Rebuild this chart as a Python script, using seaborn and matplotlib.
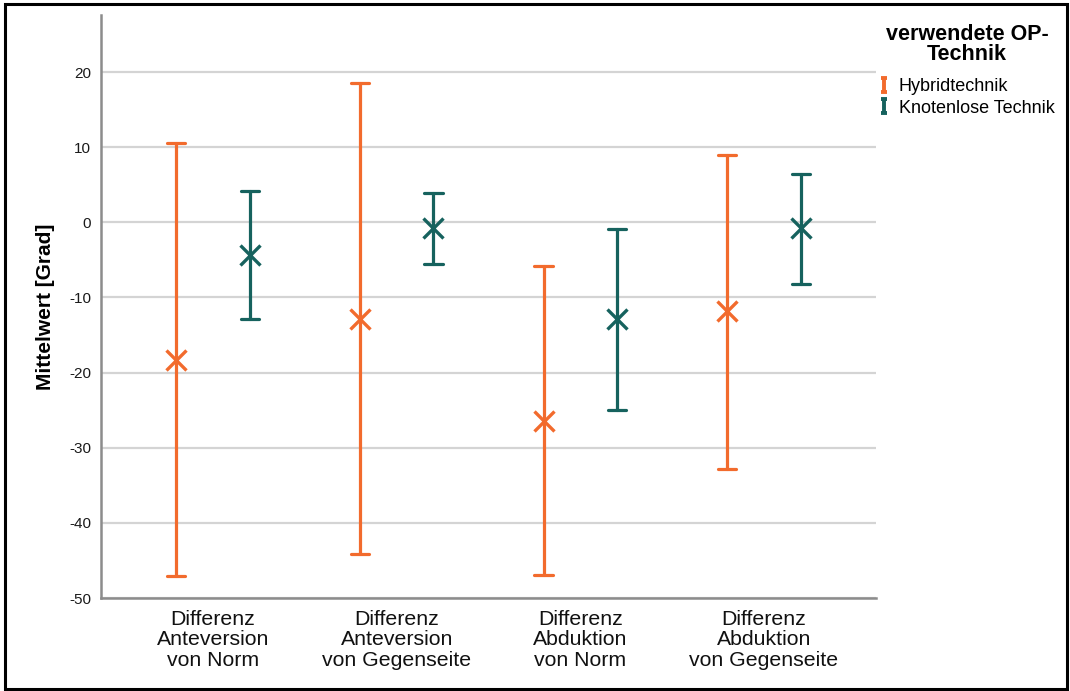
import numpy as np
import pandas as pd
import matplotlib
matplotlib.use("Agg")
import matplotlib.pyplot as plt
import seaborn as sns
from matplotlib.lines import Line2D
from matplotlib.path import Path
from matplotlib.patches import Rectangle

# ---- data ----
categories = ["Differenz\nAnteversion\nvon Norm",
              "Differenz\nAnteversion\nvon Gegenseite",
              "Differenz\nAbduktion\nvon Norm",
              "Differenz\nAbduktion\nvon Gegenseite"]
groups = ["Hybridtechnik", "Knotenlose Technik"]
hyb_mean = [-18.3, -12.8, -26.4, -11.8]
hyb_low = [-47.1, -44.1, -47.0, -32.8]
hyb_high = [10.6, 18.5, -5.8, 8.9]
kno_mean = [-4.4, -0.8, -12.8, -0.7]
kno_low = [-12.9, -5.5, -25.0, -8.2]
kno_high = [4.2, 3.9, -0.9, 6.5]
yticks = [-50, -40, -30, -20, -10, 0, 10, 20]

colors = {"Hybridtechnik": "#F26B2D", "Knotenlose Technik": "#16625E"}

rows = []
for g, lo, me, hi in [(groups[0], hyb_low, hyb_mean, hyb_high),
                      (groups[1], kno_low, kno_mean, kno_high)]:
    for c, a, b, d in zip(categories, lo, me, hi):
        for v in (a, b, d):
            rows.append({"cat": c, "group": g, "val": v})
df = pd.DataFrame(rows)

sns.set_theme(style="white")
plt.rcParams["font.family"] = ["Liberation Sans", "DejaVu Sans"]
plt.rcParams["text.color"] = "black"

fig = plt.figure(figsize=(10.70, 6.91), dpi=100)
ax = fig.add_axes([101/1070, 1-598/691, (876-101)/1070, (598-15)/691])

sns.pointplot(data=df, x="cat", y="val", hue="group", order=categories,
              hue_order=groups, palette=colors, estimator="median",
              errorbar=lambda v: (v.min(), v.max()), dodge=0.4,
              linestyle="none", markers="x", capsize=0.1,
              err_kws={"linewidth": 2.3}, markersize=14, markeredgewidth=2.4,
              legend=False, ax=ax)

ax.set_xlim(-0.61, 3.61)
ax.set_ylim(-50, 27.6)
ax.set_yticks(yticks)
ax.set_yticklabels([str(t) for t in yticks], fontsize=11, color="#1a1a1a")
ax.set_xticks(range(len(categories)))
ax.set_xticklabels(categories, fontsize=15.3, color="#111111", linespacing=1.1)
ax.tick_params(axis="y", length=0, pad=7)
ax.tick_params(axis="x", length=0, pad=8.5)
ax.set_xlabel("")
ax.set_ylabel("Mittelwert [Grad]", fontsize=15, fontweight="bold",
              labelpad=10, color="black")
ax.yaxis.grid(True, color="#D4D4D4", linewidth=1.6)
ax.set_axisbelow(True)
for s in ["top", "right"]:
    ax.spines[s].set_visible(False)
for s in ["left", "bottom"]:
    ax.spines[s].set_color("#8C8C8C")
    ax.spines[s].set_linewidth(1.8)

# legend with errorbar-like icon
ibar = Path([(-0.5, 1), (0.5, 1), (0, 1), (0, -1), (-0.5, -1), (0.5, -1)],
            [Path.MOVETO, Path.LINETO, Path.MOVETO, Path.LINETO, Path.MOVETO, Path.LINETO])
handles = [Line2D([], [], linestyle="none", marker=ibar, markersize=9.5,
                  markeredgewidth=2.8, fillstyle="none", color=colors[g],
                  solid_capstyle="butt")
           for g in groups]
leg = fig.legend(handles, groups, loc="upper left",
                 bbox_to_anchor=(879/1070, 1-78/691), frameon=False,
                 fontsize=13, handlelength=0.55, handletextpad=0.55,
                 labelspacing=0.25, borderaxespad=0, borderpad=0)
fig.text(967/1070, 1-44.5/691, "verwendete OP-\nTechnik", ha="center",
         va="center", multialignment="center", fontsize=15.5,
         fontweight="bold", linespacing=0.95, color="black")

fig.patches.append(Rectangle((5/1070, 1-689/691), 1062/1070, 685/691,
                             transform=fig.transFigure, fill=False,
                             edgecolor="black", linewidth=2.2))

fig.savefig("out.png", dpi=100)
